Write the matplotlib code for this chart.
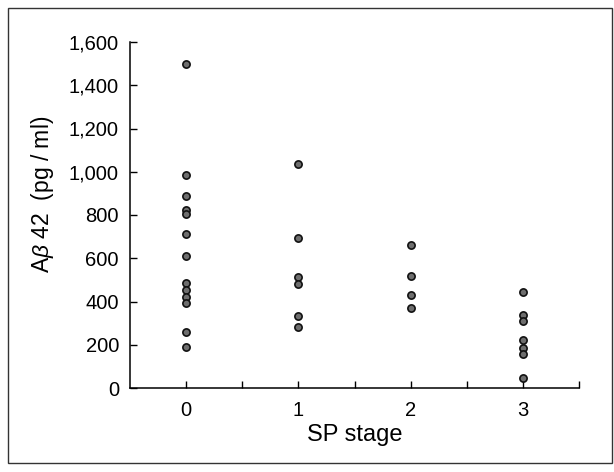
import matplotlib
matplotlib.use("Agg")
import matplotlib.pyplot as plt
from matplotlib.patches import Rectangle

stage0 = [1500, 985, 888, 822, 804, 711, 611, 485, 453, 420, 393, 260, 188]
stage1 = [1038, 692, 514, 480, 333, 280]
stage2 = [661, 519, 430, 371]
stage3 = [442, 337, 310, 220, 185, 155, 45]
stages = [0, 1, 2, 3]
yticks = [0, 200, 400, 600, 800, 1000, 1200, 1400, 1600]
ytick_labels = ["0", "200", "400", "600", "800", "1,000", "1,200", "1,400", "1,600"]

plt.rcParams['font.family'] = ['Liberation Sans', 'DejaVu Sans']
plt.rcParams['mathtext.fontset'] = 'custom'
plt.rcParams['mathtext.it'] = 'Liberation Sans:italic'

fig = plt.figure(figsize=(6.14, 4.72), dpi=100)
fig.patches.append(Rectangle((8/614, 1-463/472), 604/614, 455/472, transform=fig.transFigure,
                             fill=False, edgecolor='#333333', linewidth=1.0))
ax = fig.add_axes([130/614, 1-388/472, (579-130)/614, (388-42)/472])

for s, vals in zip(stages, [stage0, stage1, stage2, stage3]):
    ax.plot([s]*len(vals), vals, 'o', markersize=5.2, markerfacecolor='#6e6e6e',
            markeredgecolor='#111111', markeredgewidth=1.2, linestyle='none')

ax.set_xlim(-0.5, 3.5)
ax.set_ylim(0, 1600)
ax.set_xticks(stages)
ax.set_xticks([0.5, 1.5, 2.5, 3.5], minor=True)
ax.set_yticks(yticks)
ax.set_yticklabels(ytick_labels)
ax.spines['top'].set_visible(False)
ax.spines['right'].set_visible(False)
for sp in ['left', 'bottom']:
    ax.spines[sp].set_linewidth(1.1)
ax.tick_params(axis='both', which='both', direction='in', labelsize=14.5, width=1.0)
ax.tick_params(axis='both', which='major', length=5)
ax.tick_params(axis='x', which='minor', length=5)
ax.tick_params(axis='y', pad=8)
ax.tick_params(axis='x', pad=9)
ax.set_xlabel("SP stage", fontsize=17, labelpad=3)
ax.set_ylabel(r"A$\it{\beta}$ 42  (pg / ml)", fontsize=16.5, labelpad=10)
ax.yaxis.set_label_coords(-0.165, 0.56)

fig.savefig("out.png", dpi=100)
